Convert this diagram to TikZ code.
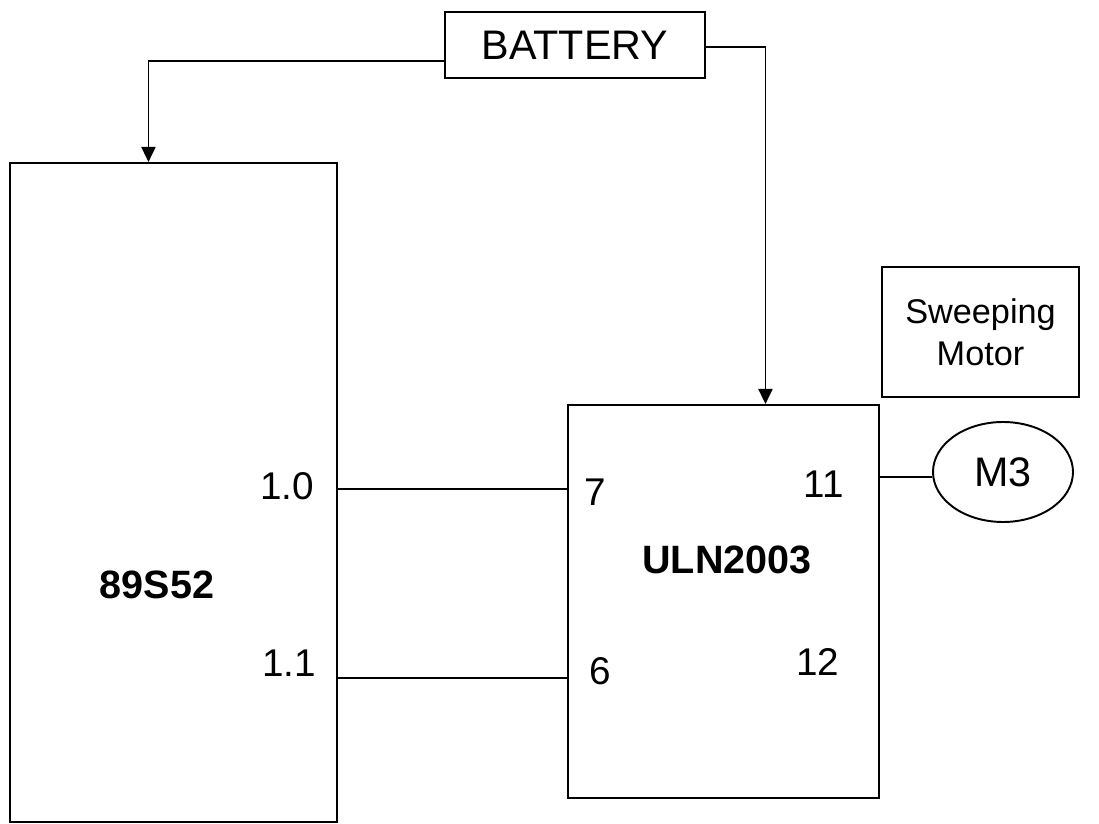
\documentclass[tikz,border=0pt]{standalone}
\usepackage{fontspec}
\setmainfont{Liberation Sans}
\usetikzlibrary{positioning,arrows.meta,shapes.geometric}
\tikzset{
  blk/.style={
    draw,
    line width=1.1pt,
    inner sep=0pt,
    font=\fontsize{23.5}{28}\selectfont
  },
  chip/.style={
    blk,
    anchor=north west
  },
  pinlbl/.style={
    inner sep=0pt,
    font=\fontsize{22}{26}\selectfont
  },
  chiplbl/.style={
    inner sep=0pt,
    font=\fontsize{22.5}{27}\selectfont\bfseries
  },
  wire/.style={
    line width=1.1pt
  },
  arrow/.style={
    wire,
    -{Triangle[width=2.8mm,length=3mm]}
  }
}

\begin{document}
\begin{tikzpicture}[x=0.2mm,y=-0.2mm]
  \useasboundingbox (0,0) rectangle (1099,824);

  % Blocks
  \node[blk, minimum width=52mm, minimum height=13.2mm] (bat) at (575,45) {BATTERY};
  \node[chip, minimum width=65.4mm, minimum height=131.8mm] (mcu) at (9,162) {};
  \node[chip, minimum width=62.2mm, minimum height=78.6mm] (drv) at (567,404) {};
  \node[blk, minimum width=39.4mm, minimum height=26mm, align=center,
        font=\fontsize{19.5}{24}\selectfont] (sweep) at (980.5,332) {Sweeping\\Motor};
  \node[blk, ellipse, minimum width=28mm, minimum height=20mm] (m3) at (1003,472) {M3};

  % Chip names and pins
  \node[chiplbl] (mcuname) at (157,585) {89S52};
  \node[chiplbl] (drvname) at (727,560) {ULN2003};
  \node[pinlbl] (p10) at (287,486) {1.0};
  \node[pinlbl] (p11) at (289,663) {1.1};
  \node[pinlbl] (p7) at (595,492) {7};
  \node[pinlbl] (p6) at (600,671) {6};
  \node[pinlbl] (p11out) at (824,484) {11};
  \node[pinlbl] (p12out) at (818,662) {12};

  \coordinate (rowa) at (0,489);
  \coordinate (rowb) at (0,678);
  \coordinate (rowm) at (0,477);

  % Supply lines
  \draw[arrow] ([yshift=-3.2mm]bat.west) -| ([xshift=-5mm]mcu.north);
  \draw[arrow] ([yshift=-0.4mm]bat.east) -| ([xshift=8.4mm]drv.north);

  % Signal lines
  \draw[wire] (mcu.east |- rowa) -- (drv.west |- rowa);
  \draw[wire] (mcu.east |- rowb) -- (drv.west |- rowb);
  \draw[wire] (drv.east |- rowm) -- (m3.west |- rowm);
\end{tikzpicture}
\end{document}
